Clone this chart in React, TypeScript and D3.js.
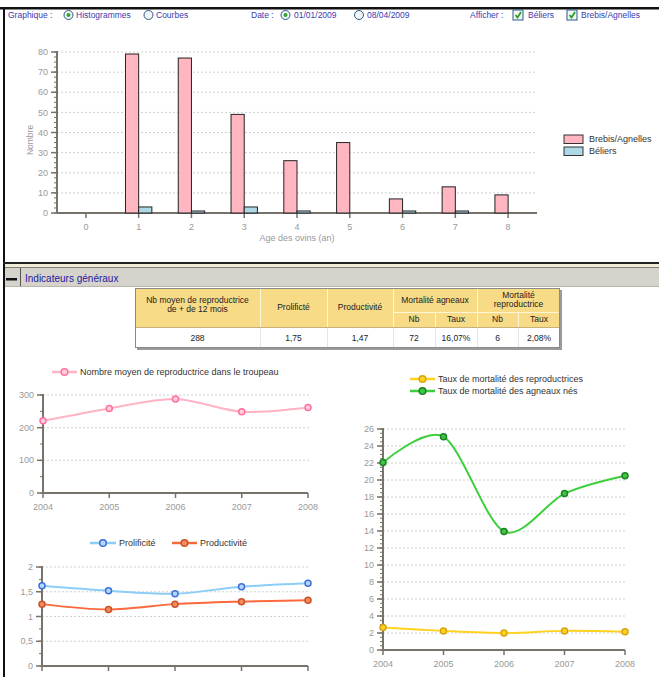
import { useEffect, useRef } from "react";
import * as d3 from "d3";

// bar chart : age des ovins
const ages = [0, 1, 2, 3, 4, 5, 6, 7, 8];
const brebis = [0, 79, 77, 49, 26, 35, 7, 13, 9];
const beliers = [0, 3, 1, 3, 1, 0, 1, 1, 0];
const barSeries = ["Brebis/Agnelles", "Béliers"];

// line charts
const years = [2004, 2005, 2006, 2007, 2008];
const nbReproductrices = [221, 259, 288, 249, 262];
const prolificite = [1.62, 1.52, 1.46, 1.6, 1.67];
const productivite = [1.25, 1.14, 1.25, 1.3, 1.33];
const mortaliteReproductrices = [2.65, 2.25, 2.0, 2.25, 2.15];
const mortaliteAgneaux = [22.05, 25.1, 13.95, 18.4, 20.5];

// indicateurs table
const tableHeaders = ["Nb moyen de reproductrice|de + de 12 mois", "Prolificté", "Productivité", "Mortalité agneaux", "Mortalité|reproductrice"];
const tableSubHeaders = ["Nb", "Taux", "Nb", "Taux"];
const tableValues = ["288", "1,75", "1,47", "72", "16,07%", "6", "2,08%"];

const FONT = "'Liberation Sans', Arial, sans-serif";
const AXIS = "#77736a";
const LABEL = "#999";
const fr = (v: number) => String(v).replace(".", ",");

function yAxis(g: any, y: any, left: number, max: number, step: number, minor: number, gridEnd: number, fs: number) {
  g.selectAll(null).data(d3.range(step, max + 1e-9, step)).enter().append("line")
    .attr("x1", left).attr("x2", gridEnd).attr("y1", (d: number) => y(d)).attr("y2", (d: number) => y(d))
    .attr("stroke", "#d0d0d0").attr("stroke-dasharray", "2,2");
  g.selectAll(null).data(d3.range(0, max + 1e-9, minor)).enter().append("line")
    .attr("x1", left - 3).attr("x2", left).attr("y1", (d: number) => y(d)).attr("y2", (d: number) => y(d))
    .attr("stroke", AXIS).attr("stroke-width", 1);
  const major = d3.range(0, max + 1e-9, step);
  g.selectAll(null).data(major).enter().append("line")
    .attr("x1", left - 6).attr("x2", left).attr("y1", (d: number) => y(d)).attr("y2", (d: number) => y(d))
    .attr("stroke", AXIS).attr("stroke-width", 1.5);
  g.selectAll(null).data(major).enter().append("text")
    .attr("x", left - 9).attr("y", (d: number) => y(d)).attr("dy", "0.35em").attr("text-anchor", "end")
    .attr("font-size", fs).attr("fill", LABEL).text((d: number) => fr(+d.toFixed(2)));
  g.append("line").attr("x1", left).attr("x2", left).attr("y1", y(max) - 1).attr("y2", y(0))
    .attr("stroke", AXIS).attr("stroke-width", 2);
}

function lineChart(svg: any, o: any) {
  const x = d3.scaleLinear().domain([years[0], years[years.length - 1]]).range([o.left, o.right]);
  const y = d3.scaleLinear().domain([0, o.max]).range([o.bottom, o.top]);
  const g = svg.append("g");
  yAxis(g, y, o.left, o.max, o.step, o.minor, o.gridEnd, 9);
  g.append("line").attr("x1", o.left).attr("x2", o.right).attr("y1", o.bottom).attr("y2", o.bottom)
    .attr("stroke", AXIS).attr("stroke-width", 2);
  g.selectAll(null).data(years).enter().append("line")
    .attr("x1", (d: number) => x(d)).attr("x2", (d: number) => x(d)).attr("y1", o.bottom).attr("y2", o.bottom + 5)
    .attr("stroke", AXIS).attr("stroke-width", 1.5);
  g.selectAll(null).data(years).enter().append("text")
    .attr("x", (d: number) => x(d)).attr("y", o.bottom + 14).attr("dy", "0.35em").attr("text-anchor", "middle")
    .attr("font-size", 9).attr("fill", LABEL).text((d: number) => d);

  const line = d3.line<number>().x((d, i) => x(years[i])).y((d) => y(d)).curve(d3.curveCardinal.tension(0.1));
  o.series.forEach((s: any) => {
    g.append("path").attr("d", line(s.values)).attr("fill", "none").attr("stroke", s.line).attr("stroke-width", 2);
    g.selectAll(null).data(s.values).enter().append("circle")
      .attr("cx", (d: number, i: number) => x(years[i])).attr("cy", (d: number) => y(d)).attr("r", 3)
      .attr("fill", s.fill).attr("stroke", s.stroke).attr("stroke-width", 1.5);
    const l = s.legend;
    g.append("line").attr("x1", l.x1).attr("x2", l.x2).attr("y1", l.y).attr("y2", l.y).attr("stroke", s.line).attr("stroke-width", 2.5);
    g.append("circle").attr("cx", (l.x1 + l.x2) / 2).attr("cy", l.y).attr("r", 3.3)
      .attr("fill", s.fill).attr("stroke", s.stroke).attr("stroke-width", 1.5);
    g.append("text").attr("x", l.x2 + 3).attr("y", l.y).attr("dy", "0.35em").attr("font-size", 9).attr("fill", "#333").text(s.name);
  });
}

const App = () => {
  const svgRef = useRef<SVGSVGElement>(null);

  useEffect(() => {
    const svg = d3.select(svgRef.current);
    svg.selectAll("*").remove();
    svg.attr("font-family", FONT);

    // frame
    svg.append("rect").attr("x", 0).attr("y", 0).attr("width", 659).attr("height", 677).attr("fill", "#fff");
    svg.append("rect").attr("x", 0).attr("y", 7).attr("width", 659).attr("height", 2.5).attr("fill", "#111");
    svg.append("rect").attr("x", 3).attr("y", 7).attr("width", 2).attr("height", 670).attr("fill", "#111");

    // header controls
    const hc = "#3a3ab0";
    const hy = 15;
    const texts = [
      [8, "Graphique :"], [76, "Histogrammes"], [156, "Courbes"], [251, "Date :"],
      [294, "01/01/2009"], [367, "08/04/2009"], [470, "Afficher :"], [528, "Béliers"], [581, "Brebis/Agnelles"],
    ];
    texts.forEach(([tx, t]) => {
      svg.append("text").attr("x", tx).attr("y", hy).attr("dy", "0.35em").attr("font-size", 8.5).attr("fill", hc).text(t as string);
    });
    [[68.5, true], [148.5, false], [285.5, true], [359, false]].forEach(([cx, on]) => {
      svg.append("circle").attr("cx", cx as number).attr("cy", hy).attr("r", 4.5).attr("fill", "#f4f4f4").attr("stroke", "#2c5a8c");
      if (on) svg.append("circle").attr("cx", cx as number).attr("cy", hy).attr("r", 2).attr("fill", "#2fa52f");
    });
    [513, 567].forEach((bx) => {
      svg.append("rect").attr("x", bx).attr("y", hy - 5).attr("width", 10).attr("height", 10).attr("fill", "#f4f4f4").attr("stroke", "#2c5a8c");
      svg.append("path").attr("d", `M${bx + 2.5},${hy}l2,2.5l3.5,-5.5`).attr("fill", "none").attr("stroke", "#22a022").attr("stroke-width", 1.8);
    });

    // bar chart
    const bx = d3.scaleBand<number>().domain(ages).range([59.5, 534.5]);
    const by = d3.scaleLinear().domain([0, 80]).range([213, 52]);
    const bg = svg.append("g");
    yAxis(bg, by, 57, 80, 10, 2.5, 537, 9);
    bg.append("line").attr("x1", 57).attr("x2", 537).attr("y1", 213).attr("y2", 213).attr("stroke", AXIS).attr("stroke-width", 2);
    bg.selectAll(null).data(ages).enter().append("line")
      .attr("x1", (d: number) => bx(d)! + bx.bandwidth() / 2).attr("x2", (d: number) => bx(d)! + bx.bandwidth() / 2)
      .attr("y1", 213).attr("y2", 218).attr("stroke", AXIS).attr("stroke-width", 1.5);
    bg.selectAll(null).data(ages).enter().append("text")
      .attr("x", (d: number) => bx(d)! + bx.bandwidth() / 2).attr("y", 227).attr("dy", "0.35em").attr("text-anchor", "middle")
      .attr("font-size", 9).attr("fill", LABEL).text((d: number) => d);
    const bw = bx.bandwidth() / 4;
    const barColors = ["#ffb6c1", "#add8e6"];
    [brebis, beliers].forEach((vals, k) => {
      ages.forEach((a, i) => {
        if (vals[i] <= 0) return;
        const cx = bx(a)! + bx.bandwidth() / 2;
        bg.append("rect").attr("x", k === 0 ? cx - bw : cx).attr("y", by(vals[i])).attr("width", bw).attr("height", 213 - by(vals[i]))
          .attr("fill", barColors[k]).attr("stroke", "#222").attr("stroke-width", 1);
      });
    });
    bg.append("text").attr("transform", "rotate(-90)").attr("x", -140).attr("y", 30).attr("dy", "0.35em")
      .attr("text-anchor", "middle").attr("font-size", 8.5).attr("fill", LABEL).text("Nombre");
    bg.append("text").attr("x", 297).attr("y", 238).attr("dy", "0.35em").attr("text-anchor", "middle")
      .attr("font-size", 9).attr("fill", LABEL).text("Age des ovins (an)");
    barSeries.forEach((name, k) => {
      bg.append("rect").attr("x", 564).attr("y", 135 + k * 12).attr("width", 19).attr("height", 8.5)
        .attr("fill", barColors[k]).attr("stroke", "#333");
      bg.append("text").attr("x", 589).attr("y", 139 + k * 12).attr("dy", "0.35em").attr("font-size", 9).attr("fill", "#333").text(name);
    });

    // section bar
    svg.append("rect").attr("x", 3).attr("y", 262).attr("width", 656).attr("height", 2).attr("fill", "#222");
    svg.append("rect").attr("x", 5).attr("y", 264).attr("width", 654).attr("height", 3).attr("fill", "#f1edd9");
    svg.append("rect").attr("x", 5).attr("y", 267).attr("width", 654).attr("height", 20).attr("fill", "#d6d3cc");
    svg.append("line").attr("x1", 5).attr("x2", 659).attr("y1", 267.5).attr("y2", 267.5).attr("stroke", "#7d7b76");
    svg.append("line").attr("x1", 5).attr("x2", 659).attr("y1", 286.5).attr("y2", 286.5).attr("stroke", "#b8b5ad");
    svg.append("rect").attr("x", 6).attr("y", 278).attr("width", 11).attr("height", 2.5).attr("fill", "#111");
    svg.append("line").attr("x1", 20.5).attr("x2", 20.5).attr("y1", 268).attr("y2", 286).attr("stroke", "#555");
    svg.append("text").attr("x", 25).attr("y", 278).attr("dy", "0.35em").attr("font-size", 10).attr("fill", "#1b1ba0").text("Indicateurs généraux");

    // table
    const cols = [135, 260, 327, 393, 435, 477, 518, 560];
    const rows = [288, 312, 327, 348];
    const tg = svg.append("g").attr("font-size", 8.5).attr("fill", "#222");
    tg.append("rect").attr("x", cols[0] + 2).attr("y", rows[0] + 2).attr("width", cols[7] - cols[0]).attr("height", rows[3] - rows[0]).attr("fill", "#9a9a9a");
    tg.append("rect").attr("x", cols[0]).attr("y", rows[0]).attr("width", cols[7] - cols[0]).attr("height", rows[2] - rows[0]).attr("fill", "#f7db87");
    tg.append("rect").attr("x", cols[0]).attr("y", rows[2]).attr("width", cols[7] - cols[0]).attr("height", rows[3] - rows[2]).attr("fill", "#fff");
    const hl = "#fff6d8";
    [cols[1], cols[2], cols[3], cols[5]].forEach((cx) => {
      tg.append("line").attr("x1", cx + 0.5).attr("x2", cx + 0.5).attr("y1", rows[0]).attr("y2", rows[2]).attr("stroke", hl);
    });
    [cols[4], cols[6]].forEach((cx) => {
      tg.append("line").attr("x1", cx + 0.5).attr("x2", cx + 0.5).attr("y1", rows[1]).attr("y2", rows[2]).attr("stroke", hl);
    });
    tg.append("line").attr("x1", cols[3]).attr("x2", cols[7]).attr("y1", rows[1] + 0.5).attr("y2", rows[1] + 0.5).attr("stroke", hl);
    cols.slice(1, 7).forEach((cx) => {
      tg.append("line").attr("x1", cx + 0.5).attr("x2", cx + 0.5).attr("y1", rows[2]).attr("y2", rows[3]).attr("stroke", "#e6e6e6");
    });
    tg.append("line").attr("x1", cols[0]).attr("x2", cols[7]).attr("y1", rows[2] + 0.5).attr("y2", rows[2] + 0.5).attr("stroke", "#c9b27a");
    tg.append("rect").attr("x", cols[0] + 0.5).attr("y", rows[0] + 0.5).attr("width", cols[7] - cols[0] - 1).attr("height", rows[3] - rows[0] - 1)
      .attr("fill", "none").attr("stroke", "#8a8a8a");
    const headerSpans = [[0, 1, 0, 2], [1, 2, 0, 2], [2, 3, 0, 2], [3, 5, 0, 1], [5, 7, 0, 1]];
    tableHeaders.forEach((h, i) => {
      const [c0, c1, r0, r1] = headerSpans[i];
      const lines = h.split("|");
      const cx = (cols[c0] + cols[c1]) / 2;
      const cy = i === 0 ? 305 : (rows[r0] + rows[r1]) / 2;
      lines.forEach((t, j) => {
        tg.append("text").attr("x", cx).attr("y", cy + (j - (lines.length - 1) / 2) * 9).attr("dy", "0.35em")
          .attr("text-anchor", "middle").text(t);
      });
    });
    tableSubHeaders.forEach((t, i) => {
      tg.append("text").attr("x", (cols[3 + i] + cols[4 + i]) / 2).attr("y", 319.5).attr("dy", "0.35em").attr("text-anchor", "middle").text(t);
    });
    tableValues.forEach((t, i) => {
      tg.append("text").attr("x", (cols[i] + cols[i + 1]) / 2).attr("y", 338).attr("dy", "0.35em").attr("text-anchor", "middle").text(t);
    });

    // line charts
    lineChart(svg, {
      left: 43, right: 308, top: 395, bottom: 493, max: 300, step: 100, minor: 50, gridEnd: 310,
      series: [{ name: "Nombre moyen de reproductrice dans le troupeau", values: nbReproductrices, line: "#ffb3c4", fill: "#ffd0dc", stroke: "#ff6f9f",
        legend: { x1: 52, x2: 77, y: 372 } }],
    });
    lineChart(svg, {
      left: 42, right: 308, top: 567, bottom: 666, max: 2, step: 0.5, minor: 0.25, gridEnd: 308,
      series: [
        { name: "Prolificité", values: prolificite, line: "#8ccdf8", fill: "#b6d8ff", stroke: "#3d6fd9", legend: { x1: 90, x2: 116, y: 543 } },
        { name: "Productivité", values: productivite, line: "#fa6a3c", fill: "#f58a5a", stroke: "#c8532c", legend: { x1: 172, x2: 197, y: 543 } },
      ],
    });
    lineChart(svg, {
      left: 383, right: 625, top: 429, bottom: 650, max: 26, step: 2, minor: 0.5, gridEnd: 626,
      series: [
        { name: "Taux de mortalité des reproductrices", values: mortaliteReproductrices, line: "#ffd21f", fill: "#ffd21f", stroke: "#d6a312",
          legend: { x1: 410, x2: 435, y: 379 } },
        { name: "Taux de mortalité des agneaux nés", values: mortaliteAgneaux, line: "#3ccf3c", fill: "#3cc83c", stroke: "#1f7f2a",
          legend: { x1: 410, x2: 435, y: 391 } },
      ],
    });
  }, []);

  return (
    <div style={{ position: "absolute", left: 0, top: 0 }}>
      <svg ref={svgRef} width={659} height={677} style={{ display: "block" }}></svg>
    </div>
  );
};

export default App;
